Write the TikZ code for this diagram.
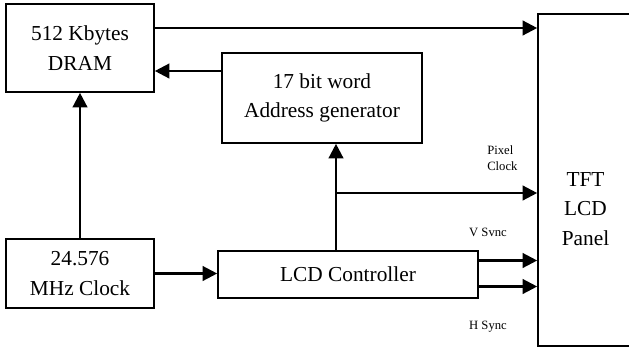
\documentclass[tikz,border=0pt]{standalone}
\usepackage{fontspec}
\setmainfont{Liberation Serif}
\usepackage{tikz}
\usetikzlibrary{arrows.meta}

\tikzset{
  blockbox/.style={draw, black, line width=1.2pt, align=center, inner sep=0pt,
    font=\fontsize{16}{22}\selectfont},
  sig/.style={black, line width=1.8pt, -{Triangle[length=11pt,width=11pt]}},
  siglabel/.style={font=\fontsize{9.5}{12}\selectfont, inner sep=0pt}
}

\begin{document}
\begin{tikzpicture}[x=0.75pt, y=-0.75pt]
        \useasboundingbox (0,0) rectangle (629,347);
        \clip (0,0) rectangle (629,347);

        % blocks
        \node[blockbox, minimum width=111pt, minimum height=66pt] (dram) at (80,48) {512 Kbytes\\DRAM};
        \node[blockbox, minimum width=150pt, minimum height=67.5pt] (addr) at (322,98) {17 bit word\\Address generator};
        \node[blockbox, minimum width=111pt, minimum height=51.75pt] (clock) at (80,273.5) {24.576\\MHz Clock};
        \node[blockbox, minimum width=195pt, minimum height=35.25pt] (ctrl) at (348,274.5) {LCD Controller};
        \node[blockbox, minimum width=71.25pt, minimum height=249pt] (panel) at (585.5,180) {};
        \node[blockbox, draw=none] (panellbl) at (585.5,209) {TFT\\LCD\\Panel};

        % connectors
        \coordinate (d1) at ([yshift=15pt]dram.east);
        \draw[sig] (d1) -- (d1 -| panel.west);

        \coordinate (a1) at ([yshift=20.25pt]addr.west);
        \draw[sig] (a1) -- (a1 -| dram.east);

        \draw[sig] (clock.north) -- (dram.south);
        \draw[sig] (clock.east) -- (clock.east -| ctrl.west);

        \coordinate (c1) at ([xshift=-9pt]ctrl.north);
        \draw[sig] (c1) -- (c1 |- addr.south);
        \coordinate (pix) at (336,193);
        \draw[sig] (pix) -- (pix -| panel.west);

        \coordinate (v1) at ([yshift=10.5pt]ctrl.east);
        \draw[sig] (v1) -- (v1 -| panel.west);
        \coordinate (h1) at ([yshift=-9pt]ctrl.east);
        \draw[sig] (h1) -- (h1 -| panel.west);

        % signal names
        \node[siglabel, align=left, anchor=west] (pixlbl) at (487,158) {Pixel\\Clock};
        \node[siglabel] (vlbl) at (488,232) {V Svnc};
        \node[siglabel] (hlbl) at (488,327) {H Sync};
\end{tikzpicture}
\end{document}
